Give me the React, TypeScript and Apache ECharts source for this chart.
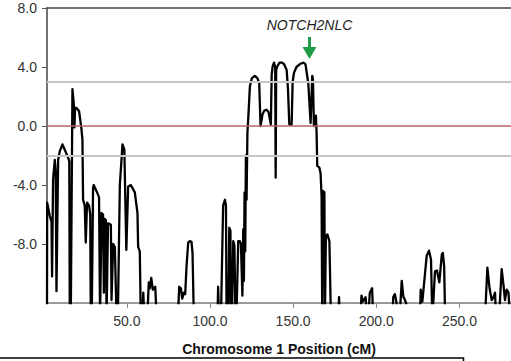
import React, { useEffect, useRef } from "react";
import * as echarts from "echarts";

const positionCm = [
  2.0, 2.1, 3.7, 4.7, 5.05, 5.65, 6.7, 7.2, 7.7, 8.7,
  9.7, 11.3, 13.0, 14.7, 15.4, 15.7, 16.3, 17.3, 18.1, 18.5,
  18.9, 19.9, 21.3, 22.7, 23.3, 23.7, 24.7, 25.3, 26.1, 27.3,
  28.0, 28.3, 28.9, 29.7, 30.1, 31.3, 32.5, 33.3, 33.9, 34.8,
  35.7, 36.2, 36.8, 37.4, 37.8, 38.7, 40.4, 40.8, 41.8, 42.8,
  43.8, 44.6, 45.8, 47.4, 48.5, 49.7, 50.8, 52.4, 54.8, 56.4,
  56.8, 57.8, 58.4, 59.3, 59.9, 60.5, 62.3, 63.2, 63.8, 64.7,
  65.6, 67.1, 67.9, 80.7, 81.5, 82.5, 83.3, 84.3, 85.1, 85.9,
  86.9, 87.9, 88.9, 89.5, 90.3, 104.5, 104.9, 105.4, 106.6, 107.9,
  109.0, 109.6, 110.0, 111.0, 111.6, 112.3, 112.6, 113.2, 114.0, 114.7,
  115.3, 115.9, 117.0, 118.0, 118.6, 119.5, 120.0, 120.4, 120.8, 121.2,
  121.6, 122.0, 122.5, 123.0, 123.6, 124.0, 125.2, 127.0, 128.5, 129.6,
  130.4, 131.6, 132.7, 134.0, 135.2, 136.6, 137.1, 137.7, 138.5, 139.2,
  139.5, 139.8, 140.7, 141.8, 143.1, 144.5, 146.1, 146.9, 147.7, 149.1,
  149.7, 150.5, 152.0, 154.1, 156.2, 157.4, 159.1, 160.5, 161.5, 161.9,
  162.5, 163.1, 163.7, 164.1, 164.5, 165.7, 166.5, 167.1, 167.5, 167.9,
  168.8, 169.1, 169.7, 170.6, 171.8, 172.7, 177.2, 177.6, 178.1, 190.4,
  191.1, 191.9, 193.6, 194.3, 195.2, 196.1, 197.5, 198.1, 209.7, 210.2,
  211.2, 212.2, 212.5, 214.0, 215.3, 216.3, 216.9, 217.9, 218.7, 226.3,
  226.7, 227.7, 229.3, 230.3, 231.7, 232.9, 233.7, 234.3, 235.3, 236.5,
  237.9, 239.4, 240.0, 240.8, 241.4, 265.4, 266.0, 266.8, 268.1, 269.4,
  270.5, 271.4, 272.0, 273.8, 275.4, 276.5, 277.4, 278.4, 279.5, 280.4,
];

const lodScore = [
  -13, -5.2, -6.1, -6.5, -10.2, -3.6, -2.3, -3.0, -11.2, -2.3,
  -1.7, -1.25, -1.7, -2.15, -2.4, -13, -13, 2.5, 1.5, -0.1,
  1.25, 1.2, 1.0, -0.2, -0.9, -5.0, -5.4, -7.9, -5.2, -5.4,
  -6.0, -13, -13, -4.2, -4.0, -4.3, -4.6, -4.85, -13, -5.9,
  -6.0, -11.3, -6.3, -6.4, -13, -6.6, -6.7, -11.8, -8.0, -8.2,
  -13, -13, -4.0, -1.25, -1.6, -8.4, -4.1, -4.0, -4.5, -5.9,
  -8.2, -8.5, -13, -13, -11.3, -13, -13, -10.6, -11.0, -10.3,
  -11.1, -10.9, -13, -13, -10.9, -11.0, -11.7, -11.3, -11.4, -9.5,
  -7.9, -7.8, -7.85, -8.6, -13, -13, -10.9, -13, -13, -5.4,
  -5.0, -5.4, -13, -13, -6.9, -7.1, -13, -13, -7.8, -8.1,
  -13, -13, -7.8, -7.8, -8.0, -11.5, -7.0, -10.5, -4.5, -8.5,
  -2.0, -5.0, -0.5, 0.5, 1.8, 2.7, 3.25, 3.4, 3.25, 2.9,
  0.0, 0.8, 1.05, 1.1, 0.95, 0.1, 3.5, 4.05, 4.3, 4.0,
  -3.5, 3.8, 4.1, 4.3, 4.3, 4.2, 3.8, 2.5, 0.1, 0.1,
  3.0, 3.6, 4.0, 4.2, 4.3, 4.2, 2.9, 0.2, 3.4, 3.2,
  0.0, 0.3, 0.7, -0.45, -2.7, -2.8, -3.2, -4.75, -13, -4.4,
  -4.5, -13, -7.5, -7.35, -7.8, -13, -13, -11.6, -13, -13,
  -11.5, -11.9, -11.6, -13, -13, -11.3, -11.0, -13, -13, -11.6,
  -11.4, -12.0, -13, -13, -10.5, -11.6, -11.7, -12.0, -13, -13,
  -11.1, -11.9, -10.0, -8.8, -8.45, -9.05, -13, -11.9, -9.85, -9.8,
  -10.6, -8.7, -8.6, -9.5, -13, -13, -11.5, -9.6, -11.0, -11.8,
  -11.6, -11.3, -13, -13, -9.7, -10.8, -11.8, -11.1, -11.3, -13,
];

const xTickValues = [50, 100, 150, 200, 250];
const yTickValues = [-8, -4, 0, 4, 8];
const thresholdGray = [3, -2];
const thresholdRed = [0];
const xAxisTitle = "Chromosome 1 Position (cM)";
const geneLabel = "NOTCH2NLC";

const FONT = "'Liberation Sans', Arial, sans-serif";

export default function App() {
  const ref = useRef<HTMLDivElement>(null);

  useEffect(() => {
    document.body.style.margin = "0";
    if (!ref.current) return;
    const chart = echarts.init(ref.current, undefined, { renderer: "svg" });
    const data = positionCm.map((x, i) => [x, lodScore[i]]);

    chart.setOption({
      animation: false,
      backgroundColor: "#ffffff",
      grid: { left: 47, right: 0, top: 8, bottom: 58, containLabel: false },
      xAxis: [
        {
          type: "value",
          min: 2,
          max: 281,
          position: "bottom",
          splitLine: { show: false },
          axisLine: { show: true, onZero: false, lineStyle: { color: "#7a7a7a", width: 1.5 } },
          axisTick: {
            show: true,
            customValues: xTickValues,
            length: 5,
            lineStyle: { color: "#8a8a8a", width: 1 },
          },
          axisLabel: {
            customValues: xTickValues,
            formatter: (v: number) => v.toFixed(1),
            fontSize: 14,
            color: "#333",
            fontFamily: FONT,
            margin: 11,
          },
          name: xAxisTitle,
          nameLocation: "middle",
          nameGap: 39,
          nameTextStyle: {
            fontSize: 14,
            fontWeight: "bold",
            color: "#111",
            fontFamily: FONT,
          },
        },
        {
          type: "value",
          min: 2,
          max: 281,
          position: "top",
          splitLine: { show: false },
          axisLine: { show: true, onZero: false, lineStyle: { color: "#444", width: 1.5 } },
          axisTick: { show: false },
          axisLabel: { show: false },
        },
      ],
      yAxis: {
        type: "value",
        min: -12,
        max: 8,
        interval: 4,
        splitLine: { show: false },
        axisLine: { show: true, onZero: false, lineStyle: { color: "#444", width: 1.5 } },
        axisTick: {
          show: true,
          customValues: yTickValues,
          length: 5,
          lineStyle: { color: "#555", width: 1 },
        },
        axisLabel: {
          customValues: yTickValues,
          formatter: (v: number) => v.toFixed(1),
          fontSize: 14,
          color: "#333",
          fontFamily: FONT,
          margin: 10,
        },
      },
      series: [
        {
          type: "line",
          data: [],
          z: 1,
          silent: true,
          markLine: {
            silent: true,
            symbol: "none",
            label: { show: false },
            data: [
              ...thresholdGray.map((v) => ({
                yAxis: v,
                lineStyle: { color: "#c6c6c6", width: 2, type: "solid" },
              })),
              ...thresholdRed.map((v) => ({
                yAxis: v,
                lineStyle: { color: "#b86464", width: 1.6, type: "solid" },
              })),
            ],
          },
        },
        {
          type: "line",
          data,
          z: 3,
          showSymbol: false,
          symbol: "none",
          clip: true,
          lineStyle: { color: "#000", width: 2.3, join: "round" },
          silent: true,
        },
      ],
      graphic: [
        {
          type: "text",
          x: 309.5,
          y: 25,
          style: {
            text: geneLabel,
            font: `italic 14px ${FONT}`,
            fill: "#222",
            align: "center",
            verticalAlign: "middle",
          },
        },
        {
          type: "rect",
          shape: { x: 308, y: 37, width: 3, height: 12 },
          style: { fill: "#1e9c48" },
        },
        {
          type: "polygon",
          shape: { points: [[302.5, 47], [316.5, 47], [309.5, 59]] },
          style: { fill: "#1e9c48" },
        },
        {
          type: "polyline",
          shape: { points: [[0, 358], [463.5, 358], [463.5, 361]] },
          style: { stroke: "#000", lineWidth: 1.5, fill: "none" },
        },
      ],
    });

    return () => chart.dispose();
  }, []);

  return <div ref={ref} style={{ width: 511, height: 361 }} />;
}
